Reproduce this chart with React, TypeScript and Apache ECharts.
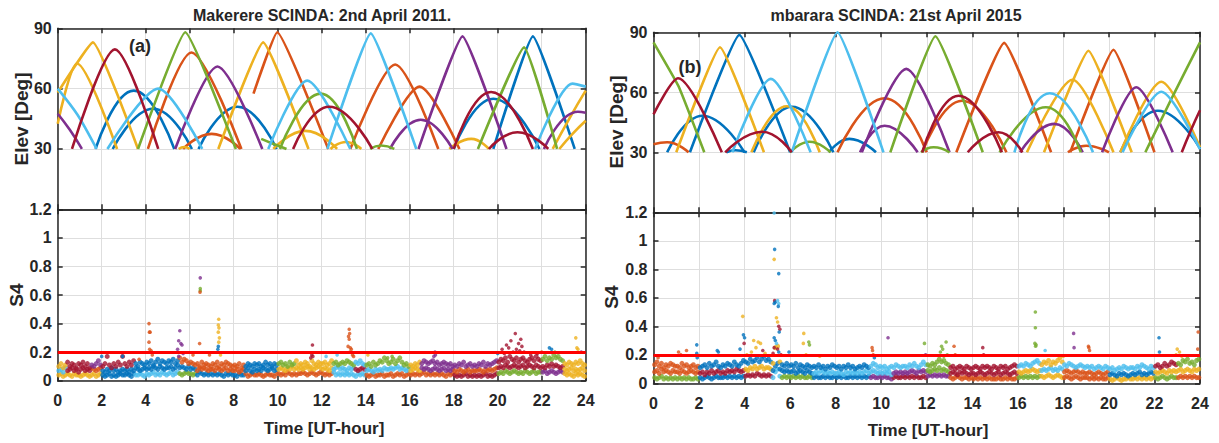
import React, { useEffect, useRef } from "react";
import * as echarts from "echarts";

// MATLAB default line colours: blue, orange, yellow, purple, green, light blue, dark red
const COLORS = ["#0072BD", "#D95319", "#EDB120", "#7E2F8E", "#77AC30", "#4DBEEE", "#A2142F"];

const TITLES = ["Makerere SCINDA: 2nd April 2011.", "mbarara SCINDA: 21st April 2015"];
const PANEL_TAGS = ["(a)", "(b)"];
const X_NAME = "Time [UT-hour]";
const ELEV_NAME = "Elev [Deg]";
const S4_NAME = "S4";
const HOUR_MIN = 0, HOUR_MAX = 24, HOUR_STEP = 2;
const ELEV_MIN = 0, ELEV_MAX = 90, ELEV_STEP = 30;
const S4_MIN = 0, S4_MAX = 1.2, S4_STEP = 0.2;
const S4_THRESHOLD = 0.2;
const SAMPLE_STEP = 0.1; // hours between S4 samples in the band arrays

// Elevation tracks, panel (a): [colour index, [[hour, elevation], ...]]
const ARCS_A: [number, number[][]][] = [
  [0, [[1.72, 30], [3.46, 59], [5.3, 30]]],
  [0, [[2.5, 30], [4.34, 50], [6.1, 30]]],
  [0, [[6.4, 30], [8.18, 51], [9.95, 30]]],
  [0, [[18.0, 30], [19.8, 55], [21.9, 30]]],
  [0, [[19.8, 30], [21.6, 86], [23.5, 30]]],
  [1, [[4.1, 30], [6.08, 78], [8.35, 30]]],
  [1, [[5.7, 30], [7.0, 37.5], [8.3, 30]]],
  [1, [[8.9, 57.5], [9.98, 88], [12.3, 30]]],
  [1, [[13.3, 30], [15.34, 72], [17.3, 30]]],
  [1, [[14.57, 30], [16.45, 61], [18.26, 30]]],
  [2, [[0, 42.5], [0.88, 72.5], [2.7, 30]]],
  [2, [[0, 58], [1.6, 83], [3.65, 30]]],
  [2, [[7.3, 30], [9.34, 83], [11.4, 30]]],
  [2, [[9.8, 30], [11.26, 39], [12.7, 30]]],
  [2, [[12.4, 30], [13.1, 33.5], [13.8, 30]]],
  [2, [[5.5, 30], [5.75, 31], [6.0, 30]]],
  [2, [[17.8, 30], [18.8, 35], [19.6, 30]]],
  [2, [[22.5, 30], [23.3, 46], [24, 59]]],
  [2, [[22.8, 30], [23.4, 37.5], [24, 44]]],
  [3, [[0, 47.5], [0.55, 39.5], [1.1, 30]]],
  [3, [[5.34, 30], [7.26, 71], [9.3, 30]]],
  [3, [[15.1, 30], [16.5, 44.5], [17.95, 30]]],
  [3, [[16.4, 30], [18.4, 86], [20.4, 30]]],
  [3, [[22.1, 30], [23.65, 48.5], [24, 48]]],
  [4, [[3.65, 30], [5.8, 88], [8.1, 30]]],
  [4, [[9.25, 35], [9.7, 33], [10.4, 30]]],
  [4, [[10.1, 30], [11.95, 57.5], [13.6, 30]]],
  [4, [[14.2, 30], [14.7, 31.7], [15.3, 30]]],
  [4, [[19.1, 30], [21.2, 80.5], [22.7, 30]]],
  [5, [[0, 60], [0.9, 47], [1.77, 30]]],
  [5, [[2.26, 30], [4.57, 60], [6.57, 30]]],
  [5, [[9.57, 30], [11.34, 64], [13.3, 30]]],
  [5, [[12.26, 30], [14.23, 87.5], [16.3, 30]]],
  [5, [[21.7, 30], [23.4, 62.5], [24, 61]]],
  [6, [[0.65, 30], [2.6, 79.5], [4.57, 30]]],
  [6, [[10.7, 30], [12.34, 51], [14.3, 30]]],
  [6, [[18.0, 30], [19.7, 58.3], [21.6, 30]]],
  [6, [[19.6, 30], [20.9, 38.3], [22.3, 30]]],
];

// Elevation tracks, panel (b)
const ARCS_B: [number, number[][]][] = [
  [0, [[0.6, 30], [2.15, 48.3], [4.0, 30]]],
  [0, [[1.6, 30], [3.77, 88.7], [6.0, 30]]],
  [0, [[3.2, 30], [3.6, 31], [4.1, 30]]],
  [0, [[4.4, 30], [6.08, 52.8], [7.9, 30]]],
  [0, [[7.7, 30], [8.6, 36.7], [9.77, 30]]],
  [0, [[20.5, 30], [22.15, 50.8], [24, 32]]],
  [1, [[0, 34], [0.6, 35], [1.54, 30]]],
  [1, [[8.08, 30], [10.15, 57], [12.0, 30]]],
  [1, [[11.8, 30], [13.55, 55.8], [15.5, 30]]],
  [1, [[13.3, 30], [15.4, 84.7], [17.46, 30]]],
  [1, [[18.2, 30], [19.0, 33.3], [20.0, 30]]],
  [1, [[18.3, 30], [20.2, 81.3], [22.0, 30]]],
  [2, [[1.0, 30], [2.92, 82.5], [4.85, 30]]],
  [2, [[4.3, 30], [5.85, 53], [7.3, 30]]],
  [2, [[16.4, 30], [18.4, 66.3], [20.2, 30]]],
  [2, [[17.15, 30], [19.1, 80.8], [21.0, 30]]],
  [2, [[20.5, 30], [22.3, 65.3], [24, 32.5]]],
  [3, [[9.07, 30], [10.15, 43.3], [11.6, 30]]],
  [3, [[9.15, 30], [11.1, 71.7], [13.0, 30]]],
  [3, [[16.1, 30], [17.6, 44.2], [18.85, 30]]],
  [3, [[19.7, 30], [21.2, 62.5], [22.8, 30]]],
  [4, [[0, 85], [1.1, 63], [2.23, 30]]],
  [4, [[6.0, 30], [6.85, 35.3], [7.77, 30]]],
  [4, [[10.4, 30], [12.38, 88], [14.46, 30]]],
  [4, [[11.75, 30], [12.3, 32.5], [13.0, 30]]],
  [4, [[15.2, 30], [17.23, 52.5], [18.77, 30]]],
  [4, [[21.6, 30], [22.8, 58], [24, 85]]],
  [5, [[3.46, 30], [5.15, 66.7], [6.9, 30]]],
  [5, [[6.07, 30], [8.08, 90], [10.1, 30]]],
  [5, [[15.85, 30], [17.4, 59.5], [19.3, 30]]],
  [5, [[20.6, 30], [22.3, 60.3], [24, 31.5]]],
  [6, [[0, 49], [1.08, 67], [3.0, 30]]],
  [6, [[3.15, 30], [4.77, 40.3], [6.07, 30]]],
  [6, [[11.8, 30], [13.4, 58.3], [15.3, 30]]],
  [6, [[13.8, 30], [15.15, 40], [16.2, 30]]],
  [6, [[23.2, 30], [23.6, 41], [24, 51]]],
];

// S4 background band, panel (a), in hundredths, one value per 0.1 h (three overlapping layers)
const BAND_A_HIGH = [
  10,12,9,11,13,10,12,11,9,12, 11,13,10,12,9,11,10,12,14,11, 10,12,17,11,9,12,10,13,11,17,
  12,10,13,11,14,12,10,13,12,11, 13,12,14,11,13,15,12,14,13,12, 14,13,15,12,14,16,13,15,14,12,
  13,12,11,12,10,13,11,12,11,10, 12,11,13,10,12,11,13,12,11,10, 11,10,12,9,11,10,12,11,10,12,
  11,12,10,11,13,11,12,10,12,11, 12,13,11,12,10,13,11,12,14,11, 12,11,13,12,10,14,12,11,13,12,
  12,13,11,12,14,12,13,11,12,13, 12,14,13,12,11,13,12,14,12,11, 11,12,10,13,11,12,14,13,16,14,
  12,13,15,12,14,16,13,11,12,10, 11,10,12,11,13,12,14,13,12,13, 14,12,13,11,12,13,12,11,12,10,
  11,10,12,11,13,10,11,12,10,11, 10,12,11,13,10,12,11,12,13,14, 13,15,14,16,13,17,15,14,16,13,
  15,16,14,13,15,16,14,17,15,14, 15,17,14,16,15,18,16,17,15,14, 12,11,13,12,11,13,12,14,12,11,
];
const BAND_A_MID = [
  7,8,6,9,7,8,9,7,8,6, 8,9,7,8,7,9,8,7,8,9, 7,6,8,7,9,7,8,6,7,8,
  7,8,6,8,7,9,8,7,8,9, 8,9,8,10,9,8,10,9,8,9, 9,10,8,9,11,9,10,9,8,10,
  8,9,8,7,9,8,9,8,7,8, 8,7,9,8,7,8,9,7,8,7, 7,8,6,7,8,7,9,7,6,8,
  7,8,7,9,8,7,8,9,7,8, 8,9,8,7,9,8,10,8,9,8, 9,8,9,10,8,9,8,9,10,9,
  8,9,8,7,9,8,9,10,8,9, 8,7,9,8,9,8,7,8,9,8, 7,8,7,6,8,7,8,7,9,8,
  8,9,8,9,10,8,9,8,7,8, 7,8,9,8,7,9,8,9,8,7, 8,9,8,7,8,9,7,8,7,8,
  7,6,8,7,6,7,8,6,7,7, 7,8,7,6,8,7,8,7,8,9, 9,10,9,11,10,9,10,11,10,9,
  10,11,9,10,11,10,9,11,10,9, 10,9,11,10,12,10,11,10,9,10, 8,7,8,9,7,8,7,8,9,7,
];
const BAND_A_LOW = [
  4,5,3,4,5,4,3,5,4,4, 3,4,5,4,3,4,5,3,4,5, 4,3,4,5,3,4,3,4,5,4,
  4,5,4,3,5,4,4,5,4,3, 5,4,5,6,4,5,4,6,5,4, 5,6,4,5,6,5,4,5,6,5,
  5,4,5,4,6,5,4,5,4,5, 4,5,4,5,4,3,5,4,5,4, 4,3,5,4,4,5,3,4,5,4,
  4,5,4,3,4,5,4,4,3,5, 5,4,5,4,6,5,4,5,4,5, 5,6,5,4,5,6,5,4,5,6,
  5,4,5,4,5,6,4,5,4,5, 4,5,4,5,4,3,5,4,5,4, 4,3,4,5,3,4,4,5,3,4,
  4,5,3,4,5,4,5,3,4,5, 4,5,4,5,4,5,6,4,5,4, 5,4,5,4,5,4,3,5,4,5,
  4,3,4,3,4,5,3,4,3,4, 3,4,3,4,5,3,4,3,4,5, 5,6,5,7,6,5,6,7,6,5,
  6,5,7,6,5,6,7,5,6,6, 6,7,5,6,7,6,5,6,7,6, 5,4,5,4,3,5,4,5,4,3,
];
// colour of each band layer by time: [end hour, low, mid, high]
const BAND_A_COLORS = [
  [0.4, 2, 5, 2], [1.5, 2, 6, 6], [2.0, 2, 1, 3], [3.5, 0, 0, 6], [5.5, 5, 0, 0],
  [6.3, 4, 0, 1], [8.5, 0, 1, 1], [10.0, 1, 0, 0], [10.8, 1, 2, 4], [12.5, 1, 2, 2],
  [13.5, 5, 5, 4], [14.0, 5, 6, 5], [16.0, 1, 5, 4], [16.5, 1, 2, 2], [18.0, 1, 3, 3],
  [20.0, 6, 1, 3], [22.0, 4, 6, 6], [23.0, 3, 6, 4], [24.0, 2, 2, 2],
];
// isolated S4 values, panel (a): [hour, S4, colour index]
const SPIKES_A = [
  [4.15, 0.40, 1], [4.17, 0.34, 1], [4.2, 0.34, 1], [4.15, 0.27, 1], [4.18, 0.22, 1], [4.25, 0.21, 1], [4.3, 0.18, 1],
  [5.55, 0.35, 3], [5.5, 0.28, 3], [5.6, 0.26, 3], [5.65, 0.25, 3], [5.45, 0.22, 3], [5.7, 0.19, 3], [5.5, 0.17, 3],
  [6.48, 0.72, 3], [6.48, 0.645, 4], [6.48, 0.63, 4], [6.47, 0.62, 1], [6.45, 0.26, 1], [6.15, 0.18, 1], [6.9, 0.18, 1],
  [7.32, 0.43, 2], [7.3, 0.39, 2], [7.33, 0.37, 2], [7.3, 0.34, 2], [7.35, 0.30, 2], [7.32, 0.27, 2], [7.3, 0.24, 0], [7.28, 0.22, 0], [7.4, 0.18, 2],
  [2.0, 0.17, 0], [2.95, 0.17, 0], [3.7, 0.15, 1],
  [11.58, 0.25, 6], [11.55, 0.18, 6], [11.6, 0.17, 6], [11.5, 0.16, 6], [12.2, 0.17, 5], [12.7, 0.18, 5],
  [13.25, 0.36, 1], [13.27, 0.33, 1], [13.22, 0.31, 1], [13.25, 0.29, 1], [13.2, 0.24, 1], [13.3, 0.23, 1], [13.35, 0.22, 1], [13.28, 0.2, 1], [13.4, 0.18, 1], [13.45, 0.17, 1],
  [14.1, 0.18, 2], [15.2, 0.17, 4], [15.0, 0.16, 4],
  [17.15, 0.2, 3], [17.17, 0.18, 3], [17.1, 0.17, 3],
  [20.2, 0.22, 6], [20.4, 0.25, 6], [20.5, 0.23, 6], [20.6, 0.28, 6], [20.7, 0.2, 6], [20.8, 0.33, 6], [20.85, 0.22, 6], [20.95, 0.26, 6],
  [21.05, 0.29, 6], [21.1, 0.24, 6], [21.2, 0.2, 6], [21.0, 0.21, 6], [20.3, 0.19, 6], [21.5, 0.18, 6], [21.8, 0.19, 6],
  [22.35, 0.23, 0], [22.45, 0.22, 0], [22.0, 0.2, 1], [22.6, 0.2, 4],
  [23.55, 0.30, 2], [23.6, 0.23, 2], [23.65, 0.22, 2], [23.8, 0.2, 3], [20.0, 0.19, 0],
];

// S4 background band, panel (b)
const BAND_B_HIGH = [
  13,15,12,14,11,13,12,14,13,12, 12,11,14,12,13,11,12,13,11,12, 11,12,13,11,14,12,13,15,12,11,
  13,12,14,13,12,15,13,12,14,16, 15,14,17,15,16,18,15,17,19,16, 17,15,14,25,26,15,13,12,14,12,
  13,12,14,11,13,12,11,13,12,11, 12,11,13,11,12,10,12,11,13,12, 11,12,10,12,11,13,11,12,10,11,
  12,11,13,12,11,12,14,13,11,12, 11,12,10,11,12,11,13,12,11,12, 12,11,13,12,14,12,11,13,15,13,
  13,12,14,13,15,17,15,16,14,13, 11,12,10,11,12,11,10,12,11,10, 11,12,11,10,12,11,12,11,10,12,
  11,10,12,11,12,10,11,12,13,12, 12,13,12,14,13,12,14,15,16,14, 13,15,14,16,13,15,14,16,18,15,
  13,12,14,13,12,11,12,13,12,11, 12,11,12,10,11,12,11,10,12,11, 10,11,9,10,11,10,12,11,10,11,
  11,10,12,11,13,12,11,10,12,11, 12,13,11,12,14,12,13,15,14,13, 14,13,16,15,17,14,15,13,16,17,
];
const BAND_B_MID = [
  8,9,7,10,8,9,8,7,9,8, 8,7,9,8,7,8,9,8,7,8, 7,8,6,8,7,9,7,8,9,7,
  8,7,9,8,9,8,10,9,8,9, 10,9,11,10,12,10,11,12,10,11, 11,10,9,12,14,10,9,8,9,8,
  8,9,7,8,9,8,7,9,8,7, 7,8,7,9,8,7,8,7,8,7, 7,8,7,6,8,7,8,7,8,7,
  8,7,8,9,7,8,9,8,7,8, 7,8,7,8,6,7,8,7,8,7, 8,7,8,9,8,7,9,8,9,8,
  9,8,9,10,9,11,9,10,9,8, 7,8,7,6,8,7,8,7,6,7, 7,6,7,8,7,6,7,8,7,6,
  7,8,6,7,8,7,6,7,8,7, 8,7,8,9,8,9,10,9,8,9, 9,10,9,10,11,9,10,9,11,10,
  8,9,8,7,8,9,8,7,8,7, 7,8,7,6,7,8,7,6,7,8, 6,7,6,5,7,6,7,6,5,6,
  7,6,7,8,6,7,6,7,8,7, 8,7,8,9,8,7,9,8,9,8, 9,10,8,9,10,9,8,10,9,10,
];
const BAND_B_LOW = [
  4,3,4,5,3,4,3,4,3,4, 3,4,3,4,3,4,3,3,4,3, 4,3,4,5,4,3,4,5,4,4,
  4,5,4,5,4,5,4,5,4,5, 5,6,5,6,5,7,6,5,6,5, 6,5,4,8,10,5,4,5,4,5,
  4,5,4,5,4,5,4,4,5,4, 4,5,4,4,5,4,5,4,4,5, 4,5,4,5,4,4,5,4,5,4,
  5,4,5,4,5,4,5,4,4,5, 4,5,4,4,3,4,5,4,4,5, 4,5,4,5,4,5,4,4,5,4,
  5,6,5,6,5,6,5,6,5,5, 4,3,4,5,4,3,4,4,3,4, 3,4,3,4,3,4,3,4,3,3,
  3,4,3,3,4,3,4,3,3,4, 4,5,4,5,4,5,4,5,4,5, 5,4,5,6,5,4,5,6,5,4,
  4,5,4,3,4,5,4,3,4,4, 4,3,4,3,4,3,4,3,3,4, 3,2,3,4,3,2,3,3,4,3,
  3,4,3,4,3,4,3,4,3,4, 4,3,4,5,4,3,4,5,4,4, 4,5,4,5,4,5,4,5,4,4,
];
const BAND_B_COLORS = [
  [2.0, 4, 1, 1], [4.0, 0, 6, 0], [5.2, 6, 2, 0], [5.6, 5, 0, 2], [7.0, 4, 0, 0],
  [9.5, 0, 5, 0], [10.5, 3, 5, 5], [12.0, 6, 3, 5], [13.0, 3, 4, 4], [16.0, 1, 6, 6],
  [17.0, 4, 2, 5], [18.0, 2, 5, 2], [20.0, 1, 1, 5], [22.0, 2, 0, 5], [23.0, 4, 2, 6], [24.0, 1, 2, 4],
];
const SPIKES_B = [
  [5.3, 1.195, 5], [5.32, 0.94, 0], [5.3, 0.87, 2], [5.5, 0.77, 0], [5.32, 0.58, 6], [5.35, 0.57, 0], [5.3, 0.56, 0],
  [5.45, 0.58, 5], [5.5, 0.56, 5], [5.48, 0.54, 0], [5.4, 0.46, 2], [5.45, 0.43, 2], [5.5, 0.40, 6], [5.55, 0.38, 6],
  [5.52, 0.36, 0], [5.3, 0.32, 0], [5.35, 0.3, 0], [5.4, 0.28, 5], [5.3, 0.25, 6], [5.45, 0.24, 6], [5.5, 0.22, 0], [5.25, 0.21, 6], [5.6, 0.2, 6],
  [3.92, 0.47, 2], [3.95, 0.34, 0], [4.0, 0.32, 0], [3.98, 0.28, 6], [3.8, 0.24, 0], [4.4, 0.30, 2], [4.6, 0.29, 2],
  [4.7, 0.28, 2], [4.5, 0.25, 2], [4.3, 0.22, 2], [4.8, 0.23, 6], [4.9, 0.21, 2], [4.1, 0.2, 2],
  [1.9, 0.27, 0], [1.9, 0.21, 0], [1.92, 0.18, 0], [1.1, 0.22, 1], [1.2, 0.2, 1], [1.45, 0.23, 1], [2.8, 0.23, 0], [2.85, 0.22, 0], [0.2, 0.18, 1],
  [6.6, 0.35, 2], [6.58, 0.28, 2], [6.82, 0.29, 4], [6.85, 0.27, 4], [5.95, 0.22, 0], [7.3, 0.19, 2], [6.7, 0.2, 2],
  [9.6, 0.25, 1], [9.62, 0.23, 1], [9.65, 0.2, 1], [9.7, 0.18, 0], [10.3, 0.32, 3],
  [11.9, 0.28, 4], [11.95, 0.2, 3], [12.85, 0.29, 4], [12.65, 0.26, 4], [12.7, 0.24, 4], [12.6, 0.22, 4], [12.9, 0.2, 4], [12.75, 0.19, 4],
  [13.2, 0.26, 1], [13.25, 0.2, 1], [14.46, 0.25, 6], [14.5, 0.2, 6],
  [16.77, 0.50, 4], [16.77, 0.39, 4], [16.75, 0.28, 4], [16.8, 0.27, 4], [16.78, 0.26, 4], [17.2, 0.23, 5],
  [18.45, 0.35, 3], [18.47, 0.25, 3], [19.1, 0.26, 1], [19.12, 0.25, 1], [19.15, 0.23, 1], [18.0, 0.19, 2],
  [22.2, 0.32, 0], [22.22, 0.22, 0], [23.92, 0.36, 1], [23.9, 0.24, 1], [23.0, 0.24, 2], [23.1, 0.22, 2], [22.95, 0.2, 2], [23.2, 0.19, 2],
];

const FONT = "'Liberation Sans', Arial, Helvetica, sans-serif";
const INK = "#262626";
const GRID_GREY = "#dedede";

function bandPoints(layers: number[][], segs: number[][]) {
  const out: number[][] = [];
  layers.forEach((layer, li) => {
    layer.forEach((v, i) => {
      const t = (i + 0.5) * SAMPLE_STEP;
      const seg = segs.find((s) => t < s[0]) || segs[segs.length - 1];
      out.push([t, v / 100, seg[1 + li]]);
    });
  });
  return out;
}

// sharper peaks for near-overhead passes, rounder for low passes
function smoothFor(pts: number[][]) {
  const peak = Math.max(...pts.map((p) => p[1]));
  return peak >= 80 ? 0.12 : peak >= 60 ? 0.28 : 0.5;
}

export default function App() {
  const ref = useRef<HTMLDivElement>(null);
  useEffect(() => {
    if (!ref.current) return;
    const chart = echarts.init(ref.current, null, { renderer: "svg" });

    const panels = [
      { left: 57.7, width: 528, top: 28.3, hTop: 181, hBot: 171.4, arcs: ARCS_A,
        band: bandPoints([BAND_A_LOW, BAND_A_MID, BAND_A_HIGH], BAND_A_COLORS), spikes: SPIKES_A },
      { left: 653.5, width: 546.5, top: 32.3, hTop: 180, hBot: 171, arcs: ARCS_B,
        band: bandPoints([BAND_B_LOW, BAND_B_MID, BAND_B_HIGH], BAND_B_COLORS), spikes: SPIKES_B },
    ];

    const grids: any[] = [];
    const xAxes: any[] = [];
    const yAxes: any[] = [];
    const series: any[] = [];
    const lineStyle = { color: INK, width: 1.5 };
    const tick = { show: true, inside: true, length: 5, lineStyle };
    const labelStyle = { color: INK, fontFamily: FONT, fontWeight: "bold", fontSize: 16 };

    panels.forEach((p, pi) => {
      const gTop = pi * 2, gBot = pi * 2 + 1;
      grids.push({ left: p.left, width: p.width, top: p.top, height: p.hTop });
      grids.push({ left: p.left, width: p.width, top: p.top + p.hTop, height: p.hBot });
      [gTop, gBot].forEach((g) => {
        const isBot = g === gBot;
        xAxes.push({
          type: "value", gridIndex: g, min: HOUR_MIN, max: HOUR_MAX, interval: HOUR_STEP,
          position: "bottom", axisLine: { show: true, onZero: false, lineStyle },
          axisTick: tick,
          axisLabel: { show: isBot, margin: 12, ...labelStyle },
          splitLine: { show: true, lineStyle: { color: GRID_GREY, width: 1 } },
        });
        xAxes.push({
          type: "value", gridIndex: g, min: HOUR_MIN, max: HOUR_MAX, interval: HOUR_STEP,
          position: "top", axisLine: { show: true, onZero: false, lineStyle },
          axisTick: tick, axisLabel: { show: false }, splitLine: { show: false },
        });
        const yr = isBot
          ? { min: S4_MIN, max: S4_MAX, interval: S4_STEP }
          : { min: ELEV_MIN, max: ELEV_MAX, interval: ELEV_STEP };
        yAxes.push({
          type: "value", gridIndex: g, ...yr, position: "left",
          axisLine: { show: true, onZero: false, lineStyle }, axisTick: tick,
          axisLabel: {
            show: true, margin: 6, ...labelStyle,
            formatter: (v: number) => (!isBot && v === 0 ? "" : String(Math.round(v * 10) / 10)),
          },
          splitLine: { show: true, lineStyle: { color: GRID_GREY, width: 1.2 } },
        });
        yAxes.push({
          type: "value", gridIndex: g, ...yr, position: "right",
          axisLine: { show: true, onZero: false, lineStyle }, axisTick: tick,
          axisLabel: { show: false }, splitLine: { show: false },
        });
      });

      p.arcs.forEach(([c, pts]) => {
        series.push({
          type: "line", xAxisIndex: gTop * 2, yAxisIndex: gTop * 2, data: pts,
          smooth: smoothFor(pts), symbol: "none", silent: true,
          lineStyle: { color: COLORS[c], width: 2.6 },
        });
      });

      const colorFn = (d: any) => COLORS[d.data[2]];
      series.push({
        type: "scatter", xAxisIndex: gBot * 2, yAxisIndex: gBot * 2, data: p.band,
        symbol: "circle", symbolSize: 5, silent: true, progressive: 0,
        itemStyle: { color: colorFn },
        markLine: {
          silent: true, symbol: "none", label: { show: false },
          lineStyle: { color: "#ff0000", width: 3, type: "solid" },
          data: [{ yAxis: S4_THRESHOLD }],
        },
      });
      series.push({
        type: "scatter", xAxisIndex: gBot * 2, yAxisIndex: gBot * 2, data: p.spikes,
        symbol: "circle", symbolSize: 3.6, silent: true, progressive: 0,
        itemStyle: { color: colorFn }, z: 3,
      });
    });

    const txt = (text: string, x: number, y: number, size: number, rot = 0) => ({
      type: "text", x, y, rotation: rot, z: 10,
      style: {
        text, fill: INK, font: `bold ${size}px ${FONT}`,
        textAlign: "center", textVerticalAlign: "middle",
      },
    });

    chart.setOption({
      animation: false,
      grid: grids,
      xAxis: xAxes,
      yAxis: yAxes,
      series,
      graphic: [
        txt(TITLES[0], 322, 15, 16),
        txt(TITLES[1], 896, 15, 16),
        txt(PANEL_TAGS[0], 140, 46, 18),
        txt(PANEL_TAGS[1], 690, 67, 18),
        txt(ELEV_NAME, 21, 119, 19, Math.PI / 2),
        txt(ELEV_NAME, 616, 122, 19, Math.PI / 2),
        txt(S4_NAME, 16, 295, 19, Math.PI / 2),
        txt(S4_NAME, 611, 297, 19, Math.PI / 2),
        txt(X_NAME, 324, 428, 17),
        txt(X_NAME, 928, 430, 17),
      ],
    });
    return () => chart.dispose();
  }, []);

  return (
    <div
      ref={ref}
      style={{ position: "fixed", left: 0, top: 0, width: 1219, height: 443, background: "#fff" }}
    />
  );
}
